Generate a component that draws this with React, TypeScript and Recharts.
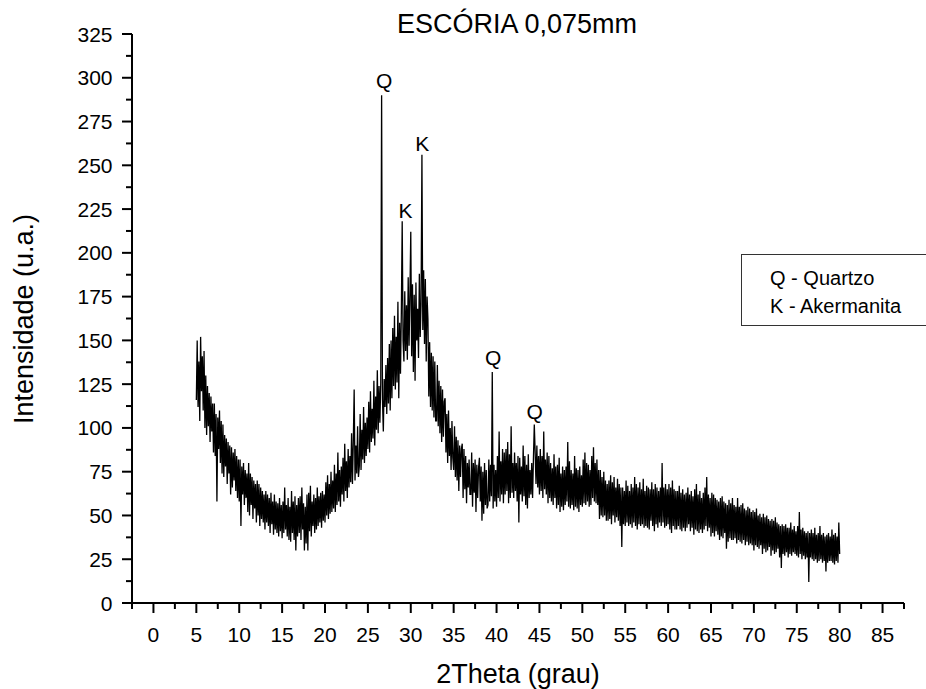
import React from 'react';
import { LineChart, Line, XAxis, YAxis, ReferenceDot } from 'recharts';

// 2θ scan, step 0.1°, one array per 5° block (values in u.a.)
const STEP = 0.1;
const seg05 = [
  116, 150, 112, 138, 104, 152, 121, 141, 110, 144,
  100, 130, 96, 124, 101, 120, 92, 118, 98, 114,
  86, 114, 84, 108, 58, 106, 88, 110, 80, 104,
  74, 102, 72, 96, 78, 94, 68, 92, 74, 90,
  62, 89, 66, 86, 70, 88, 64, 84, 60, 82,
];
const seg10 = [
  58, 82, 44, 78, 62, 80, 56, 76, 60, 74,
  52, 80, 50, 74, 56, 72, 48, 70, 54, 68,
  46, 70, 50, 68, 44, 66, 48, 64, 46, 62,
  42, 64, 46, 62, 44, 60, 40, 63, 45, 58,
  39, 62, 42, 58, 40, 57, 38, 60, 41, 56,
];
const seg15 = [
  37, 58, 40, 66, 42, 56, 38, 60, 36, 55,
  35, 64, 40, 58, 36, 61, 30, 56, 38, 60,
  40, 61, 36, 66, 42, 57, 30, 55, 34, 62,
  30, 63, 41, 67, 38, 58, 44, 62, 40, 60,
  42, 66, 44, 61, 46, 63, 43, 64, 47, 62,
];
const seg20 = [
  46, 69, 50, 73, 48, 68, 51, 75, 52, 70,
  54, 79, 52, 74, 56, 86, 58, 76, 55, 78,
  62, 83, 58, 91, 64, 81, 60, 88, 66, 84,
  69, 97, 68, 92, 122, 70, 90, 74, 101, 72,
  78, 108, 76, 99, 82, 112, 80, 103, 84, 106,
];
const seg25 = [
  88, 115, 86, 121, 92, 111, 94, 127, 90, 118,
  99, 133, 97, 124, 103, 126, 290, 116, 98, 128,
  112, 136, 108, 140, 114, 148, 110, 150, 117, 157,
  124, 164, 122, 152, 126, 172, 117, 160, 131, 166,
  218, 150, 138, 178, 144, 170, 139, 186, 147, 176,
];
const seg30 = [
  212, 141, 182, 132, 176, 127, 183, 150, 168, 140,
  188, 152, 171, 256, 156, 190, 148, 185, 138, 175,
  162, 118, 149, 112, 143, 110, 141, 106, 138, 104,
  104, 136, 101, 127, 97, 124, 92, 122, 95, 115,
  117, 86, 108, 80, 110, 84, 100, 76, 104, 83,
];
const seg35 = [
  76, 101, 72, 95, 70, 93, 64, 90, 72, 88,
  91, 60, 88, 65, 84, 57, 80, 66, 82, 62,
  62, 86, 55, 80, 63, 82, 52, 79, 60, 77,
  83, 58, 78, 47, 75, 51, 80, 56, 76, 54,
  56, 82, 58, 79, 61, 132, 54, 79, 58, 76,
];
const seg40 = [
  55, 84, 60, 98, 58, 81, 62, 88, 57, 86,
  62, 88, 64, 92, 57, 85, 60, 101, 63, 80,
  60, 86, 64, 80, 58, 84, 46, 83, 62, 78,
  58, 90, 61, 84, 56, 79, 54, 85, 60, 76,
  62, 80, 60, 83, 102, 86, 68, 90, 66, 84,
];
const seg45 = [
  62, 88, 64, 84, 60, 98, 65, 82, 62, 86,
  57, 84, 60, 80, 58, 77, 56, 85, 60, 78,
  54, 79, 56, 83, 52, 74, 55, 78, 53, 76,
  56, 78, 58, 92, 55, 81, 54, 76, 56, 74,
  53, 84, 55, 77, 54, 76, 52, 78, 56, 73,
];
const seg50 = [
  55, 82, 57, 86, 56, 80, 58, 79, 55, 76,
  56, 84, 60, 89, 58, 80, 57, 82, 56, 76,
  48, 76, 50, 72, 49, 75, 50, 70, 47, 68,
  47, 70, 48, 73, 45, 69, 50, 72, 46, 66,
  49, 71, 47, 68, 44, 66, 32, 66, 45, 64,
];
const seg55 = [
  44, 70, 46, 67, 44, 64, 45, 68, 43, 66,
  46, 72, 44, 68, 42, 66, 45, 69, 44, 65,
  45, 71, 43, 64, 44, 67, 43, 66, 42, 65,
  47, 69, 44, 65, 41, 68, 45, 66, 43, 64,
  46, 66, 44, 80, 46, 66, 43, 68, 44, 65,
];
const seg60 = [
  45, 68, 42, 66, 40, 70, 44, 65, 42, 64,
  42, 64, 44, 67, 42, 63, 41, 65, 43, 62,
  41, 63, 43, 66, 45, 62, 41, 64, 43, 61,
  39, 65, 42, 68, 41, 62, 40, 64, 42, 60,
  40, 63, 42, 66, 44, 72, 41, 62, 43, 60,
];
const seg65 = [
  38, 63, 40, 62, 38, 60, 41, 59, 39, 58,
  36, 60, 38, 61, 37, 58, 40, 57, 31, 56,
  35, 59, 37, 57, 36, 60, 36, 56, 37, 55,
  34, 60, 36, 55, 35, 56, 34, 57, 36, 54,
  33, 53, 35, 55, 33, 54, 34, 52, 33, 53,
];
const seg70 = [
  30, 52, 33, 54, 32, 50, 31, 51, 33, 49,
  28, 51, 31, 49, 29, 50, 30, 48, 32, 47,
  27, 48, 30, 47, 28, 49, 29, 46, 31, 45,
  26, 44, 20, 45, 28, 44, 27, 45, 29, 43,
  26, 43, 28, 46, 27, 42, 29, 44, 28, 41,
];
const seg75 = [
  27, 44, 26, 52, 28, 42, 25, 43, 27, 41,
  25, 40, 26, 41, 12, 40, 26, 42, 25, 40,
  24, 43, 25, 39, 23, 40, 24, 44, 25, 39,
  23, 40, 24, 38, 18, 39, 23, 40, 24, 38,
  24, 42, 23, 39, 22, 40, 24, 38, 23, 46,
  28,
];

const blocks: [number, number[]][] = [
  [5, seg05], [10, seg10], [15, seg15], [20, seg20], [25, seg25],
  [30, seg30], [35, seg35], [40, seg40], [45, seg45], [50, seg50],
  [55, seg55], [60, seg60], [65, seg65], [70, seg70], [75, seg75],
];

const xTicks = [-2.5, 0, 2.5, 5, 7.5, 10, 12.5, 15, 17.5, 20, 22.5, 25, 27.5, 30, 32.5, 35, 37.5, 40, 42.5, 45, 47.5, 50, 52.5, 55, 57.5, 60, 62.5, 65, 67.5, 70, 72.5, 75, 77.5, 80, 82.5, 85, 87.5];
const yTicks = [0, 12.5, 25, 37.5, 50, 62.5, 75, 87.5, 100, 112.5, 125, 137.5, 150, 162.5, 175, 187.5, 200, 212.5, 225, 237.5, 250, 262.5, 275, 287.5, 300, 312.5, 325];

// peak labels: [2θ, intensity at label baseline, text]
const peakLabels: [number, number, string][] = [
  [26.9, 294, 'Q'],
  [29.4, 220, 'K'],
  [31.35, 258, 'K'],
  [39.6, 136, 'Q'],
  [44.45, 105, 'Q'],
];

const data = blocks.flatMap(([start, vals]) =>
  vals.map((v, i) => ({ x: Math.round((start + i * STEP) * 10) / 10, y: v }))
);

const FONT = '"Liberation Sans", Arial, Helvetica, sans-serif';

const XTick = (props: any) => {
  const { x, y, payload } = props;
  const major = payload.value % 5 === 0;
  return (
    <g>
      <line x1={x} y1={y} x2={x} y2={y + (major ? 10 : 6)} stroke="#000" strokeWidth={2} />
      {major && (
        <text x={x} y={y + 38.5} textAnchor="middle" fontSize={21} fontFamily={FONT} fill="#000">
          {payload.value}
        </text>
      )}
    </g>
  );
};

const YTick = (props: any) => {
  const { x, y, payload } = props;
  const major = payload.value % 25 === 0;
  return (
    <g>
      <line x1={x - (major ? 10 : 6)} y1={y} x2={x} y2={y} stroke="#000" strokeWidth={2} />
      {major && (
        <text x={x - 19.5} y={y + 7.5} textAnchor="end" fontSize={21} fontFamily={FONT} fill="#000">
          {payload.value}
        </text>
      )}
    </g>
  );
};

const PeakLabel = (text: string) => (props: any) => {
  const { viewBox } = props;
  return (
    <text x={viewBox.x} y={viewBox.y} textAnchor="middle" fontSize={21} fontFamily={FONT} fill="#000">
      {text}
    </text>
  );
};

export default function App() {
  return (
    <div style={{ position: 'absolute', left: 0, top: 0, width: 926, height: 689, overflow: 'hidden', background: '#fff', fontFamily: FONT }}>
      <LineChart width={926} height={689} data={data} margin={{ top: 34, right: 22, bottom: 26, left: 52 }}>
        <XAxis
          type="number"
          dataKey="x"
          domain={[-2.5, 87.5]}
          ticks={xTicks}
          interval={0}
          tickSize={0}
          tickMargin={0}
          tickLine={false}
          tick={<XTick />}
          height={60}
          axisLine={{ stroke: '#000', strokeWidth: 2 }}
        />
        <YAxis
          type="number"
          domain={[0, 325]}
          ticks={yTicks}
          interval={0}
          tickSize={0}
          tickMargin={0}
          tickLine={false}
          tick={<YTick />}
          width={80}
          axisLine={{ stroke: '#000', strokeWidth: 2 }}
        />
        <Line
          type="linear"
          dataKey="y"
          stroke="#000"
          strokeWidth={1.3}
          dot={false}
          isAnimationActive={false}
        />
        {peakLabels.map(([px, py, t], i) => (
          <ReferenceDot key={i} x={px} y={py} r={0} fill="none" stroke="none" label={PeakLabel(t)} />
        ))}
      </LineChart>
      <svg width={926} height={689} style={{ position: 'absolute', left: 0, top: 0, pointerEvents: 'none' }}>
        <text x={517} y={33} textAnchor="middle" fontSize={27} fontFamily={FONT} fill="#000">ESCÓRIA 0,075mm</text>
        <text x={518} y={683} textAnchor="middle" fontSize={27} fontFamily={FONT} fill="#000">2Theta (grau)</text>
        <text x={33} y={319} textAnchor="middle" fontSize={27} fontFamily={FONT} fill="#000" transform="rotate(-90 33 319)">Intensidade (u.a.)</text>
      </svg>
      <div
        style={{
          position: 'absolute',
          left: 741,
          top: 254,
          width: 230,
          height: 72,
          border: '1px solid #333',
          background: '#fff',
          boxSizing: 'border-box',
        }}
      >
        <div style={{ position: 'absolute', left: 28, top: 12, fontSize: 20, lineHeight: '23px', whiteSpace: 'nowrap' }}>Q - Quartzo</div>
        <div style={{ position: 'absolute', left: 28, top: 40, fontSize: 20, lineHeight: '23px', whiteSpace: 'nowrap' }}>K - Akermanita</div>
      </div>
    </div>
  );
}
